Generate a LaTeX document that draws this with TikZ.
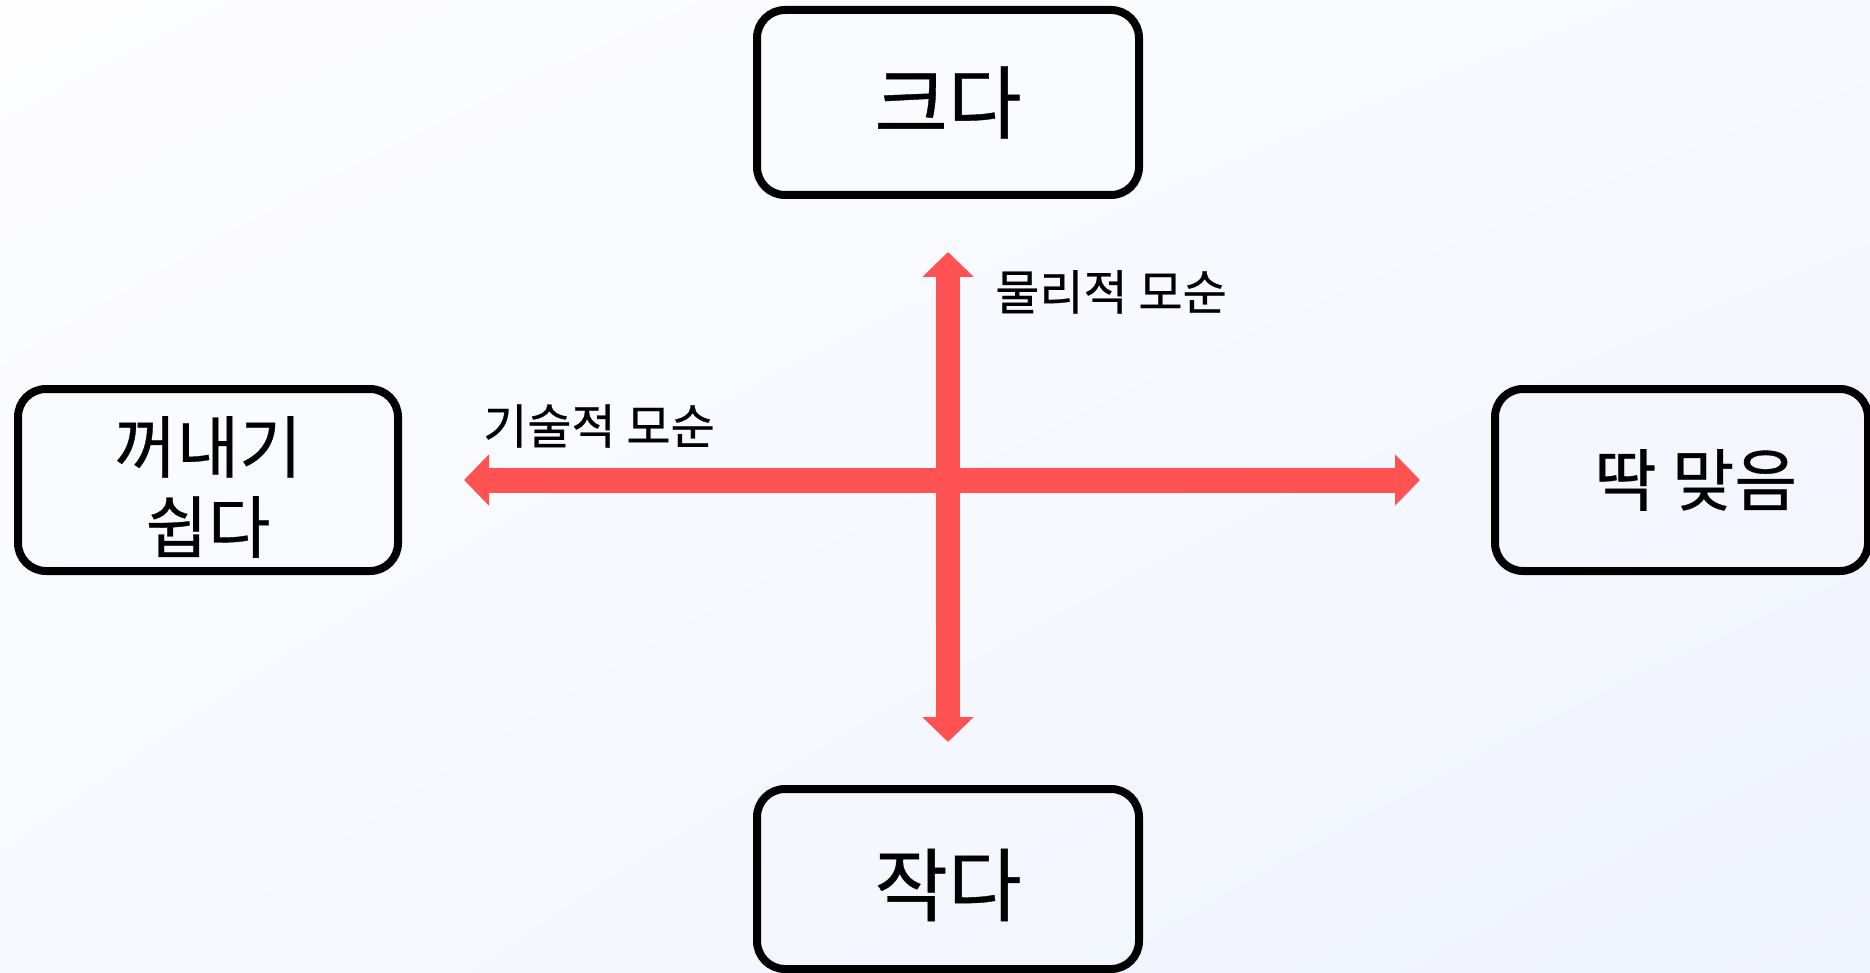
\documentclass[tikz,border=0pt]{standalone}
\usepackage{fontspec}
\setmainfont{Noto Sans CJK KR}
\newfontfamily\krmed{Noto Sans CJK KR}[FakeBold=0.5]
\usetikzlibrary{arrows.meta,shadings}
\definecolor{bgA}{HTML}{FDFDFE}
\definecolor{bgB}{HTML}{F7F9FE}
\definecolor{bgC}{HTML}{EFF3FD}
\definecolor{axisred}{HTML}{FF5353}
\tikzset{
  box/.style={draw=black, line width=8pt, rounded corners=28pt, fill=none, align=center, inner sep=0pt},
  bigtext/.style={font=\krmed\fontsize{80}{90}\selectfont},
  midtext/.style={font=\krmed\fontsize{68}{80}\selectfont},
  axislabel/.style={font=\krmed\fontsize{48}{60}\selectfont, anchor=west, inner sep=0pt},
  axisarrow/.style={draw=axisred, line width=24pt, {Triangle[length=25pt,width=50pt]}-{Triangle[length=25pt,width=50pt]}}
}
\begin{document}
\begin{tikzpicture}[x=1pt,y=-1pt]
\useasboundingbox (0,0) rectangle (1870,973);
\shade[upper left=bgA, upper right=bgB, lower left=bgB, lower right=bgC] (0,0) rectangle (1870,973);
\begin{scope}
\clip (0,0) rectangle (1870,973);
\node[box, bigtext, minimum width=382pt, minimum height=185pt] (big) at (948,102.5) {크다};
\node[box, minimum width=382pt, minimum height=180pt] (small) at (948,879) {};
\node[bigtext, inner sep=0pt] (smalltext) at (948,885) {작다};
\node[box, minimum width=380pt, minimum height=182pt] (easy) at (208,480) {};
\node[midtext, align=center, inner sep=0pt] (easytext) at (208,487) {꺼내기\\쉽다};
\node[box, midtext, minimum width=373pt, minimum height=182pt] (fit) at (1681.5,480) {\hspace*{28pt}딱 맞음};
\end{scope}
\coordinate (vtop) at (948,252);
\coordinate (vbot) at (948,742);
\coordinate (hleft) at (464,480);
\coordinate (hright) at (1420,480);
\draw[axisarrow, line width=25pt] (hleft) -- (hright);
\draw[axisarrow] (vtop) -- (vbot);
\node[axislabel] (phys) at (995,292) {물리적 모순};
\node[axislabel] (tech) at (483,426) {기술적 모순};
\end{tikzpicture}
\end{document}
